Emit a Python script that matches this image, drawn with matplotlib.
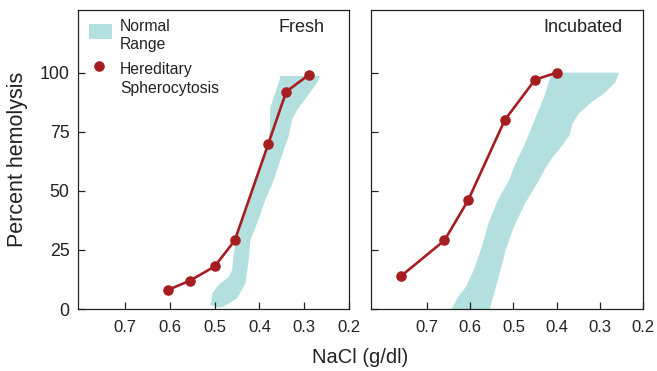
import matplotlib
matplotlib.use("Agg")
import matplotlib.pyplot as plt
from matplotlib.patches import Rectangle
from matplotlib.lines import Line2D

plt.rcParams['font.family'] = ['Liberation Sans', 'DejaVu Sans']

# Osmotic fragility: hereditary spherocytosis vs. normal range
fresh_nacl = [0.605, 0.555, 0.50, 0.455, 0.38, 0.34, 0.29]
fresh_hemolysis = [8, 12, 18, 29, 70, 92, 99]

incubated_nacl = [0.76, 0.66, 0.605, 0.52, 0.45, 0.40]
incubated_hemolysis = [14, 29, 46, 80, 97, 100]

# Normal range outlines (NaCl, % hemolysis)
fresh_band_nacl = [0.509, 0.505, 0.491, 0.468, 0.461, 0.457, 0.450, 0.431, 0.409,
                   0.379, 0.376, 0.376, 0.368, 0.357, 0.353, 0.264, 0.272, 0.294,
                   0.316, 0.327, 0.335, 0.353, 0.372, 0.387, 0.405, 0.420, 0.424,
                   0.431, 0.450, 0.480, 0.491]
fresh_band_hemolysis = [1.7, 6.6, 10.2, 13.7, 16.5, 23.6, 30.6, 40.5, 54.6,
                        70.1, 78.6, 84.9, 89.8, 95.5, 98.6, 98.6, 95.5, 89.8,
                        84.2, 80.0, 72.9, 63.1, 52.5, 46.1, 36.3, 29.2, 20.7,
                        10.9, 4.5, 1.0, 0.5]

incubated_band_nacl = [0.643, 0.628, 0.610, 0.592, 0.573, 0.558, 0.536, 0.510,
                       0.495, 0.473, 0.451, 0.429, 0.411, 0.256, 0.263, 0.289,
                       0.318, 0.348, 0.363, 0.370, 0.389, 0.411, 0.426, 0.444,
                       0.473, 0.499, 0.518, 0.532, 0.547, 0.555]
incubated_band_hemolysis = [0, 5.2, 9.4, 16.5, 26.4, 36.3, 46.1, 54.6,
                            61.7, 70.1, 80.0, 89.8, 100, 100, 96.2, 91.3,
                            87.7, 82.8, 78.6, 73.6, 68.7, 63.8, 59.5, 53.5,
                            44.7, 34.8, 25.0, 15.1, 5.2, 0]

x_ticks = [0.7, 0.6, 0.5, 0.4, 0.3, 0.2]
x_tick_labels = ["0.7", "0.6", "0.5", "0.4", "0.3", "0.2"]
y_ticks = [0, 25, 50, 75, 100]

RED = "#A61E22"
TEAL = "#B3E0DE"
INK = "#222222"

W, H = 657, 371
fig = plt.figure(figsize=(W / 100, H / 100), dpi=100)

def box(left, top, right, bottom):
    return [left / W, (H - bottom) / H, (right - left) / W, (bottom - top) / H]

ax1 = fig.add_axes(box(78, 10, 349, 309))
ax2 = fig.add_axes(box(371, 10, 643, 309))

panels = [
    (ax1, fresh_band_nacl, fresh_band_hemolysis, fresh_nacl, fresh_hemolysis,
     "Fresh", (0.805, 0.2), 0.911),
    (ax2, incubated_band_nacl, incubated_band_hemolysis, incubated_nacl,
     incubated_hemolysis, "Incubated", (0.83, 0.2), 0.924),
]

for ax, bx, by, px, py, title, xlim, tx in panels:
    ax.fill(bx, by, color=TEAL, lw=0, zorder=1)
    ax.plot(px, py, color=RED, lw=1.9, marker="o", ms=6.6, zorder=3)
    ax.set_xlim(*xlim)
    ax.set_ylim(0, 126.5)
    ax.set_xticks(x_ticks)
    ax.set_xticklabels(x_tick_labels)
    ax.set_yticks(y_ticks)
    ax.tick_params(direction="in", length=5.3, width=0.9, color=INK,
                   labelcolor=INK)
    ax.tick_params(axis="x", pad=8, labelsize=12)
    ax.tick_params(axis="y", pad=6, labelsize=12.8)
    for s in ax.spines.values():
        s.set_color(INK)
        s.set_linewidth(0.9)
    ax.text(tx, 0.925, title, transform=ax.transAxes, ha="right",
            va="baseline", fontsize=13, color=INK)

ax2.tick_params(axis="y", labelleft=False)

# Legend drawn in the left panel
ax1.add_patch(Rectangle((0.041, 0.902), 0.084, 0.051, transform=ax1.transAxes,
                        facecolor=TEAL, edgecolor="none", zorder=4))
ax1.add_line(Line2D([0.0785], [0.813], transform=ax1.transAxes, marker="o",
                    ms=6.6, color=RED, lw=0, zorder=4))
for ytext, s in [(0.931, "Normal"), (0.870, "Range"),
                 (0.786, "Hereditary"), (0.722, "Spherocytosis")]:
    ax1.text(0.155, ytext, s, transform=ax1.transAxes, ha="left",
             va="baseline", fontsize=11.3, color=INK)

fig.text(17.5 / W, (H - 159) / H, "Percent hemolysis", rotation=90,
         ha="center", va="center", fontsize=15.5, color=INK)
fig.text(360 / W, (H - 363.3) / H, "NaCl (g/dl)", ha="center",
         va="baseline", fontsize=14.5, color=INK)

fig.savefig("out.png", dpi=100)
